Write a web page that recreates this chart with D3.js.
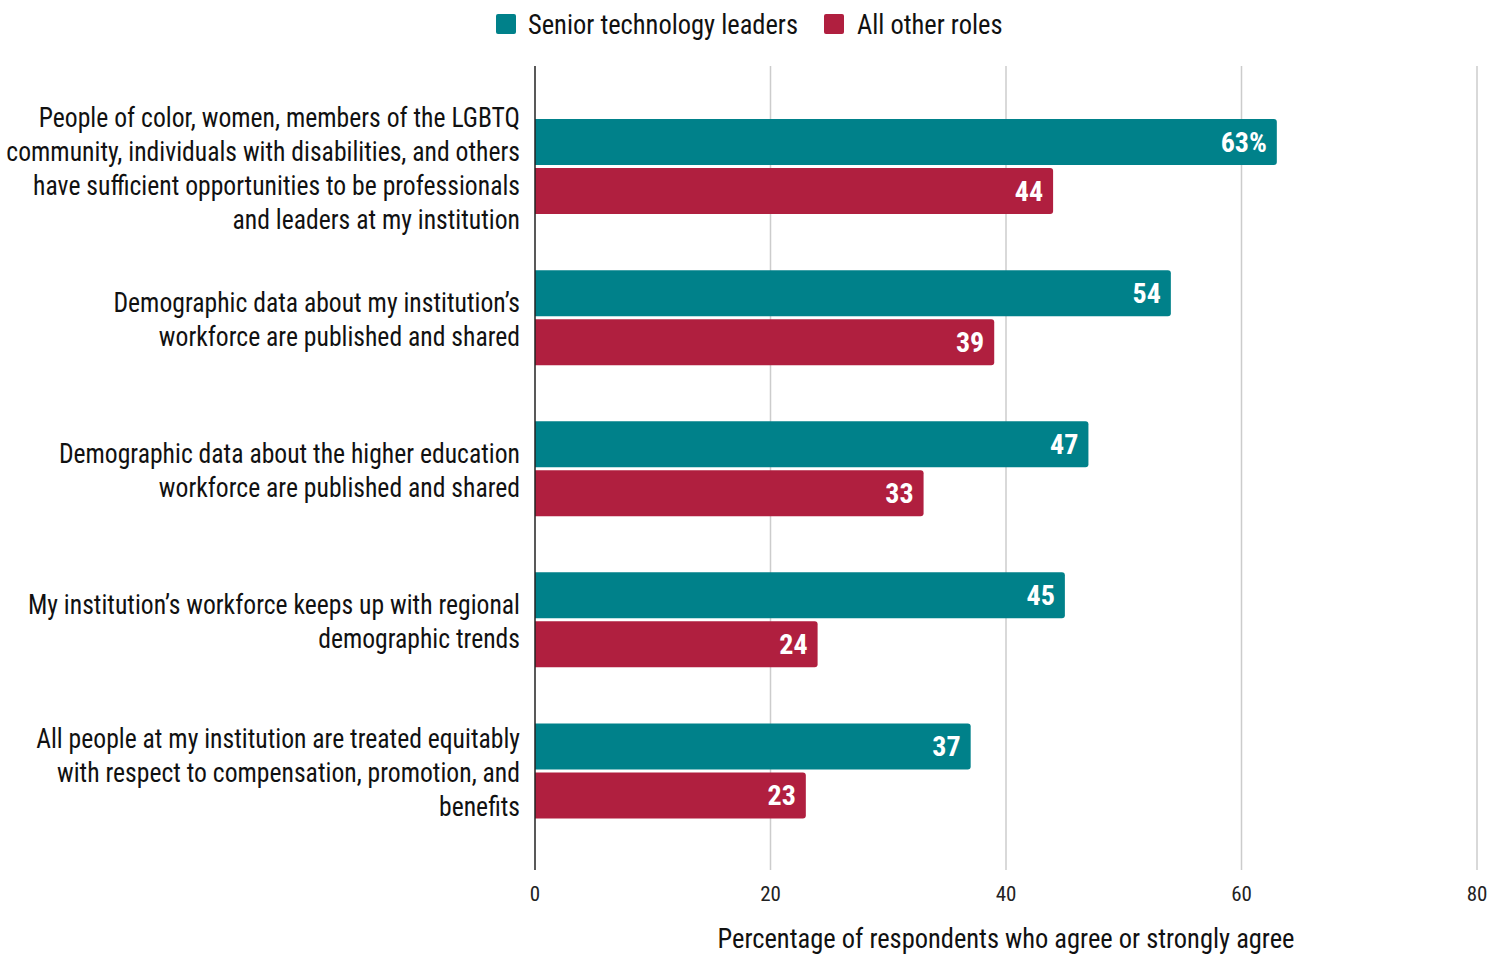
<!DOCTYPE html>
<html><head><meta charset="utf-8">
<script src="https://cdn.jsdelivr.net/npm/d3@7"></script>
<style>
body{margin:0;background:#fff;}
text{font-family:"Liberation Sans Narrow","Arial Narrow","Roboto Condensed","Liberation Sans",sans-serif;}
</style></head>
<body>
<svg id="chart" width="1500" height="974"></svg>
<script>
const categories = [
  ["People of color, women, members of the LGBTQ","community, individuals with disabilities, and others","have sufficient opportunities to be professionals","and leaders at my institution"],
  ["Demographic data about my institution’s","workforce are published and shared"],
  ["Demographic data about the higher education","workforce are published and shared"],
  ["My institution’s workforce keeps up with regional","demographic trends"],
  ["All people at my institution are treated equitably","with respect to compensation, promotion, and","benefits"]
];
const seriesNames = ["Senior technology leaders","All other roles"];
const seniorValues = [63,54,47,45,37];
const otherValues = [44,39,33,24,23];
const valueLabelsSenior = ["63%","54","47","45","37"];
const valueLabelsOther = ["44","39","33","24","23"];
const xTicks = [0,20,40,60,80];
const colors = ["#00818A","#B01F3F"];
const axisTitle = "Percentage of respondents who agree or strongly agree";

const svg = d3.select("#chart");
const x = d3.scaleLinear().domain([0,80]).range([535,1477]);
const y = d3.scaleBand().domain(d3.range(categories.length)).range([91,846.5]);
const plotTop = 66, plotBottom = 870;
const barH = 46, gap = 3;

// gridlines
svg.append("g").selectAll("line").data(xTicks.filter(d=>d>0)).join("line")
  .attr("x1",d=>x(d)).attr("x2",d=>x(d)).attr("y1",plotTop).attr("y2",plotBottom)
  .attr("stroke","#cccccc").attr("stroke-width",1.5);

// tick labels
svg.append("g").selectAll("text").data(xTicks).join("text")
  .attr("x",d=>x(d)).attr("y",901).attr("text-anchor","middle")
  .attr("font-size",21).attr("fill","#222").text(d=>d);

// axis title
svg.append("text").attr("transform",`translate(${(x(0)+x(80))/2},948) scale(0.98,1)`).attr("text-anchor","middle")
  .attr("font-size",27).attr("fill","#111").text(axisTitle);

// bars
function barPath(x0,x1,y0,h,r){
  return `M${x0},${y0}H${x1-r}Q${x1},${y0} ${x1},${y0+r}V${y0+h-r}Q${x1},${y0+h} ${x1-r},${y0+h}H${x0}Z`;
}
const rows = [];
categories.forEach((c,i)=>{
  const cy = y(i)+y.bandwidth()/2;
  rows.push({i,s:0,v:seniorValues[i],lab:valueLabelsSenior[i],y0:cy-gap/2-barH});
  rows.push({i,s:1,v:otherValues[i],lab:valueLabelsOther[i],y0:cy+gap/2});
});
svg.append("g").selectAll("path").data(rows).join("path")
  .attr("d",d=>barPath(x(0),x(d.v),d.y0,barH,3))
  .attr("fill",d=>colors[d.s]);
svg.append("g").selectAll("text").data(rows).join("text")
  .attr("x",d=>x(d.v)-10).attr("y",d=>d.y0+barH/2+10).attr("text-anchor","end")
  .attr("font-size",28).attr("font-weight","bold").attr("fill","#fff").text(d=>d.lab);

// axis line
svg.append("line").attr("x1",x(0)).attr("x2",x(0)).attr("y1",plotTop).attr("y2",plotBottom)
  .attr("stroke","#222").attr("stroke-width",1.5);

// category labels
const lh = 34;
categories.forEach((lines,i)=>{
  const cy = y(i)+y.bandwidth()/2;
  const start = cy - (lines.length-1)*lh/2 + 11;
  const t = svg.append("text").attr("text-anchor","end").attr("font-size",27).attr("fill","#111")
    .attr("transform",`translate(520,${start}) scale(0.95,1)`);
  lines.forEach((l,j)=>t.append("tspan").attr("x",0).attr("y",j*lh).text(l));
});

// legend
const legend = [{n:seriesNames[0],c:colors[0],x:496,tx:528},{n:seriesNames[1],c:colors[1],x:824,tx:857}];
const lg = svg.append("g").selectAll("g").data(legend).join("g");
lg.append("rect").attr("x",d=>d.x).attr("y",14).attr("width",20).attr("height",20).attr("rx",2).attr("fill",d=>d.c);
lg.append("text").attr("transform",d=>`translate(${d.tx},34) scale(0.98,1)`).attr("font-size",27).attr("fill","#111").text(d=>d.n);
</script>
</body></html>
